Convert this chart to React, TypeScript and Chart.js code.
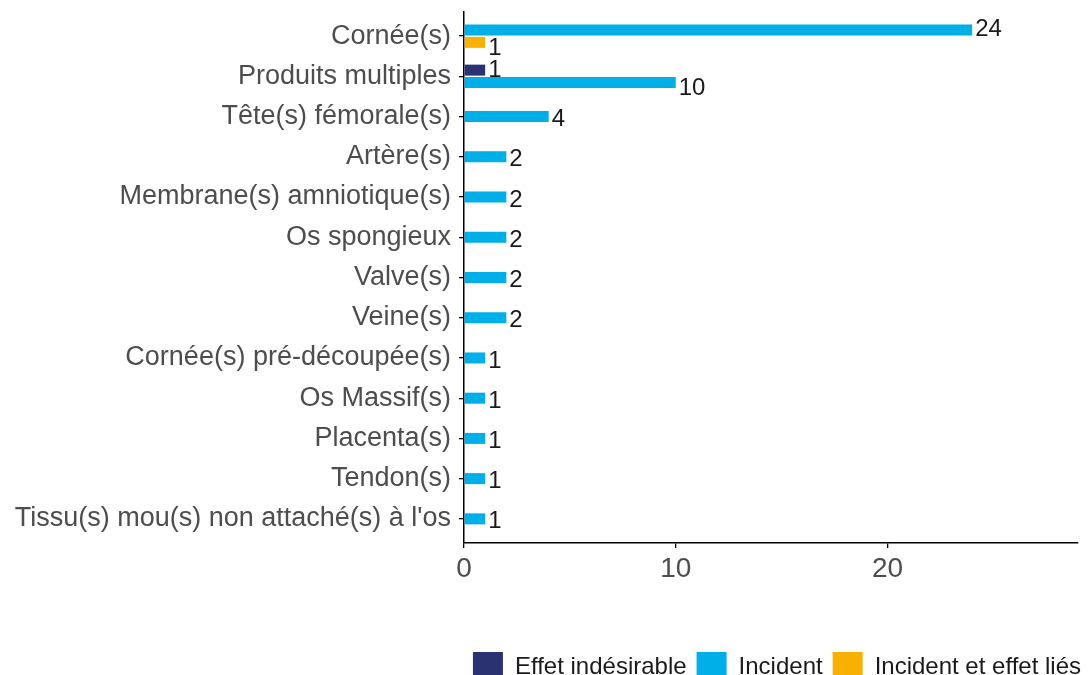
import React, { useEffect, useRef } from 'react';
import { Chart, registerables } from 'chart.js';

Chart.register(...registerables);

const categories = [
  'Cornée(s)',
  'Produits multiples',
  'Tête(s) fémorale(s)',
  'Artère(s)',
  'Membrane(s) amniotique(s)',
  'Os spongieux',
  'Valve(s)',
  'Veine(s)',
  'Cornée(s) pré-découpée(s)',
  'Os Massif(s)',
  'Placenta(s)',
  'Tendon(s)',
  "Tissu(s) mou(s) non attaché(s) à l'os",
];

const effetIndesirable = [null, 1, null, null, null, null, null, null, null, null, null, null, null];
const incident = [24, 10, 4, 2, 2, 2, 2, 2, 1, 1, 1, 1, 1];
const incidentEtEffetLies = [1, null, null, null, null, null, null, null, null, null, null, null, null];

const seriesNames = ['Effet indésirable', 'Incident', 'Incident et effet liés'];
const seriesColors = ['#2b3271', '#00aee8', '#f8b100'];

const xMin = 0;
const xMax = 29;
const xStep = 10;

const FONT = '"Liberation Sans", Arial, sans-serif';

const valueLabels = {
  id: 'valueLabels',
  afterDatasetsDraw(chart: any) {
    const ctx = chart.ctx;
    const yScale = chart.scales.y;
    ctx.save();
    ctx.font = `24px ${FONT}`;
    ctx.fillStyle = '#1a1a1a';
    ctx.textAlign = 'left';
    ctx.textBaseline = 'middle';
    chart.data.datasets.forEach((ds: any, di: number) => {
      const meta = chart.getDatasetMeta(di);
      meta.data.forEach((el: any, i: number) => {
        const v = ds.data[i];
        if (v == null) return;
        const c = yScale.getPixelForValue(i);
        const y = c + (el.y - c) * 1.5 + 3;
        ctx.fillText(String(v), el.x + 3, y);
      });
    });
    ctx.restore();
  },
};

export default function App() {
  const ref = useRef<HTMLCanvasElement | null>(null);

  useEffect(() => {
    if (!ref.current) return;
    Chart.defaults.font.family = FONT;
    const chart = new Chart(ref.current, {
      type: 'bar',
      data: {
        labels: categories,
        datasets: [
          { label: seriesNames[0], data: effetIndesirable, backgroundColor: seriesColors[0], borderWidth: 0 },
          { label: seriesNames[1], data: incident, backgroundColor: seriesColors[1], borderWidth: 0 },
          { label: seriesNames[2], data: incidentEtEffetLies, backgroundColor: seriesColors[2], borderWidth: 0 },
        ] as any,
      },
      options: {
        indexAxis: 'y',
        animation: false,
        responsive: true,
        maintainAspectRatio: false,
        layout: { padding: { top: 4, right: 0, left: 0, bottom: 0 } },
        datasets: {
          bar: {
            skipNull: true,
            categoryPercentage: 0.62,
            barPercentage: 0.88,
            maxBarThickness: 11,
          },
        } as any,
        scales: {
          x: {
            type: 'linear',
            min: xMin,
            max: xMax,
            afterFit: (s: any) => {
              s.height = 99;
              s.paddingLeft = 0;
              s.paddingRight = 0;
            },
            border: { display: true, color: '#000', width: 1.5 },
            grid: { display: true, drawOnChartArea: false, drawTicks: true, tickLength: 5, color: '#000', lineWidth: 1.3 },
            ticks: {
              stepSize: xStep,
              includeBounds: false,
              color: '#4d4d4d',
              font: { size: 28 },
              padding: 4,
            },
          },
          y: {
            type: 'category',
            afterBuildTicks: (s: any) => {
              s._startValue -= 0.1;
              s._valueRange += 0.2;
            },
            afterFit: (s: any) => {
              s.width = 456;
              s.paddingTop = 0;
              s.paddingBottom = 0;
            },
            border: { display: true, color: '#000', width: 1.5 },
            grid: { display: true, offset: false, drawOnChartArea: false, drawTicks: true, tickLength: 5, color: '#000', lineWidth: 1.3 },
            ticks: {
              autoSkip: false,
              color: '#4d4d4d',
              font: { size: 27 },
              padding: 8,
            },
          },
          yRight: {
            type: 'category',
            position: 'right',
            display: true,
            afterFit: (s: any) => {
              s.width = 13;
              s.paddingTop = 0;
              s.paddingBottom = 0;
            },
            border: { display: false },
            grid: { display: false },
            ticks: { display: false },
          },
        } as any,
        plugins: {
          legend: {
            position: 'bottom',
            align: 'end',
            labels: {
              boxWidth: 30,
              boxHeight: 30,
              padding: 10,
              color: '#1a1a1a',
              font: { size: 24 },
            },
          },
          tooltip: { enabled: false },
        },
      },
      plugins: [valueLabels],
    });
    return () => chart.destroy();
  }, []);

  return (
    <div style={{ position: 'fixed', left: 8, top: 8, width: 1083, height: 667, overflow: 'hidden' }}>
      <div style={{ position: 'relative', width: 1083, height: 684 }}>
        <canvas ref={ref} style={{ display: 'block' }} />
      </div>
    </div>
  );
}
